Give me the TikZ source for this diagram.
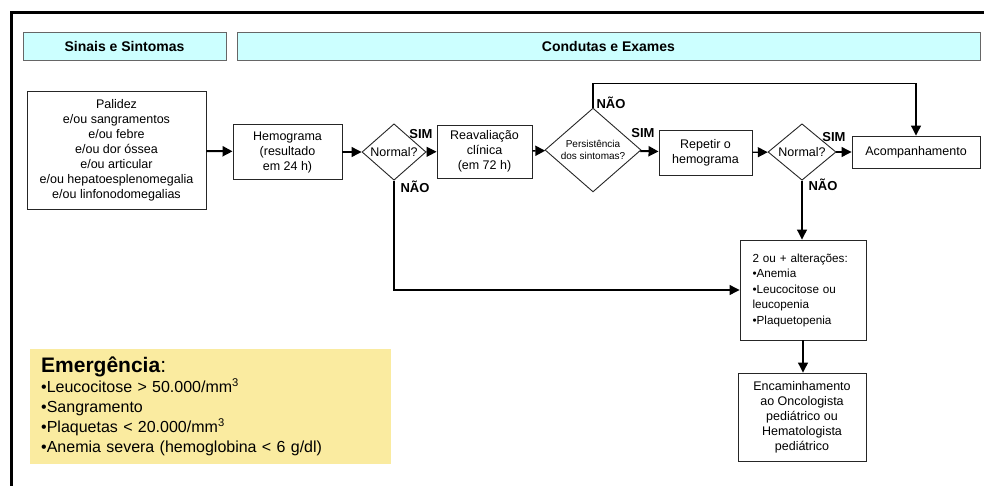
\documentclass[tikz,border=0pt]{standalone}
\usepackage{fontspec}
\setmainfont{Liberation Sans}
\usetikzlibrary{arrows.meta,shapes.geometric,positioning}
\definecolor{headcyan}{RGB}{204,255,255}
\definecolor{emeryellow}{RGB}{250,235,160}

\begin{document}
\begin{tikzpicture}[x=1pt,y=-1pt,
  box/.style={draw=black!85, line width=0.9pt, align=center, font=\fontsize{12.5}{15}\selectfont, inner sep=2pt},
  head/.style={draw=black!60, line width=0.9pt, fill=headcyan, minimum height=28, font=\fontsize{14}{16}\selectfont\bfseries},
  decision/.style={draw=black!85, line width=0.9pt, shape=diamond, inner sep=0pt, align=center},
  lbl/.style={font=\fontsize{13}{15}\selectfont\bfseries, inner sep=0pt},
  arr/.style={line width=1.1pt, -{Triangle[length=10pt,width=10pt]}},
  thickarr/.style={line width=2pt, -{Triangle[length=10pt,width=10pt]}}]
\useasboundingbox (0,0) rectangle (984,485);
\draw[line width=3pt] (11,490) -- (11,12) -- (990,12);

% headers
\node[head, minimum width=203] (hsinais) at (124.5,46) {Sinais e Sintomas};
\node[head, minimum width=743] (hcondutas) at (608.5,46) {Condutas e Exames};

% boxes
\node[box, minimum width=179, minimum height=118] (palidez) at (116.5,150) {Palidez\\e/ou sangramentos\\e/ou febre\\e/ou dor óssea\\e/ou articular\\e/ou hepatoesplenomegalia\\e/ou linfonodomegalias};
\node[box, minimum width=109, minimum height=55] (hemo) at (287.5,152) {Hemograma\\(resultado\\em 24 h)};
\node[decision, minimum width=64, minimum height=46, font=\fontsize{12.5}{15}\selectfont] (norm1) at (394,152) {Normal?};
\node[box, minimum width=95, minimum height=53] (reav) at (484.5,151.5) {Reavaliação\\clínica\\(em 72 h)};
\node[decision, minimum width=96, minimum height=70, font=\fontsize{10}{12}\selectfont] (persist) at (593,150) {Persistência\\dos sintomas?};
\node[box, minimum width=93, minimum height=45] (repetir) at (705.5,152.5) {Repetir o\\hemograma};
\node[decision, minimum width=68, minimum height=42, font=\fontsize{12.5}{15}\selectfont] (norm2) at (802,152) {Normal?};
\node[box, minimum width=128, minimum height=32] (acomp) at (916,152) {Acompanhamento};
\node[box, align=left, text width=101, inner xsep=12.5, minimum height=100, font=\fontsize{11.7}{15.5}\selectfont] (alter) at (803,290) {2 ou + alterações:\\•Anemia\\•Leucocitose ou\\leucopenia\\•Plaquetopenia};
\node[box, minimum width=128, minimum height=88] (encam) at (802,417) {Encaminhamento\\ao Oncologista\\pediátrico ou\\Hematologista\\pediátrico};

% emergencia
\node[fill=emeryellow, anchor=north west, minimum width=361, minimum height=115, text width=339, inner xsep=11, align=left, font=\fontsize{16}{20}\selectfont] (emerg) at (30,349)
  {{\fontsize{21}{20}\selectfont\textbf{Emergência}:}\\•Leucocitose > 50.000/mm\textsuperscript{3}\\•Sangramento\\•Plaquetas < 20.000/mm\textsuperscript{3}\\•Anemia severa (hemoglobina < 6 g/dl)};

% connectors
\draw[thickarr] (palidez) -- (hemo);
\draw[arr] (hemo) -- (norm1);
\draw[arr] (norm1) -- (reav);
\draw[arr, line width=1.5pt] (reav) -- (persist);
\draw[thickarr] (persist) -- (repetir);
\draw[arr] (repetir) -- (norm2);
\draw[arr] (norm2) -- (acomp);
\draw[arr] (norm1.south) |- (alter.west);
\draw[arr] (persist.north) -- ++(0,-24) -| (acomp.north);
\draw[arr] (norm2.south) -- (norm2.south |- alter.north);
\draw[arr] (alter.south) -- (alter.south |- encam.north);

% labels
\node[lbl] (sim1) at (421,134) {SIM};
\node[lbl] (nao1) at (415,187) {NÃO};
\node[lbl] (nao2) at (611,103) {NÃO};
\node[lbl] (sim2) at (643,133) {SIM};
\node[lbl] (sim3) at (834,137) {SIM};
\node[lbl] (nao3) at (823,185) {NÃO};
\end{tikzpicture}
\end{document}
